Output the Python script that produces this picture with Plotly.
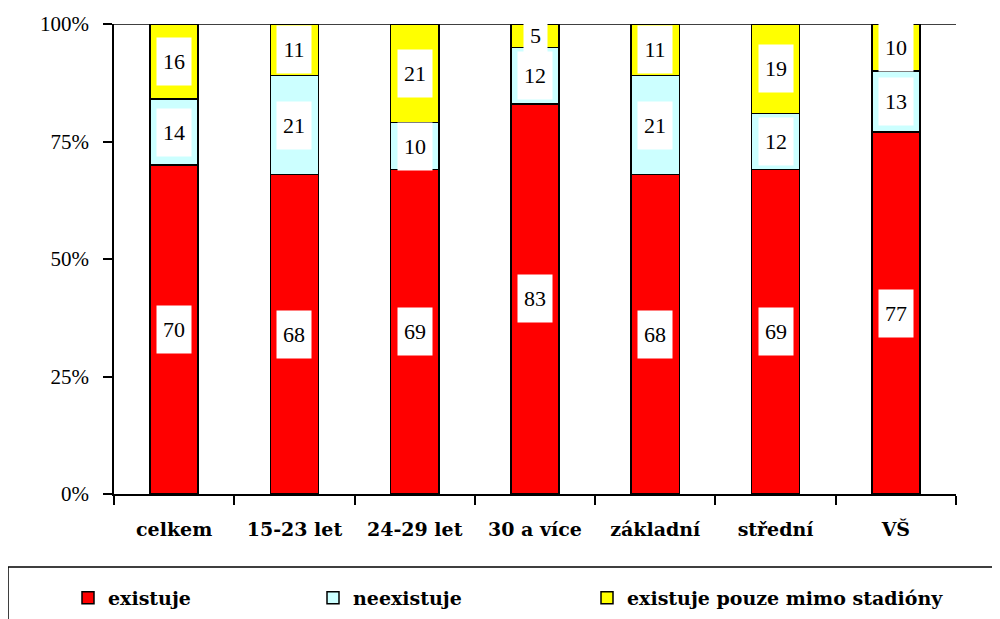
import plotly.graph_objects as go

categories = ["celkem", "15-23 let", "24-29 let", "30 a více", "základní", "střední", "VŠ"]
existuje = [70, 68, 69, 83, 68, 69, 77]
neexistuje = [14, 21, 10, 12, 21, 12, 13]
mimo = [16, 11, 21, 5, 11, 19, 10]
series_names = ["existuje", "neexistuje", "existuje pouze mimo stadióny"]
colors = ["#FF0000", "#CCFFFF", "#FFFF00"]
y_ticks = [0, 25, 50, 75, 100]
y_ticklabels = ["0%", "25%", "50%", "75%", "100%"]

FONT = "Liberation Serif"
FONT_BOLD = "DejaVu Serif"
series = [existuje, neexistuje, mimo]
legends = ["legend", "legend2", "legend3"]

W, H = 992, 611
OX, OY = 8, 8  # page body margin

def px_x(p):
    return (p - 114) / 842

def px_y(p):
    return (494 - p) / 470

fig = go.Figure()
for name, vals, col, lg in zip(series_names, series, colors, legends):
    fig.add_trace(go.Bar(
        x=categories, y=vals, name=name, width=0.4,
        marker=dict(color=col, line=dict(color="black", width=1.5)),
        legend=lg,
    ))

for i, cat in enumerate(categories):
    base = 0
    for vals in series:
        v = vals[i]
        mid = base + v / 2
        base += v
        fig.add_annotation(
            x=cat, y=mid, xref="x", yref="y", text=str(v), showarrow=False,
            font=dict(family=FONT, size=22, color="black"),
            bgcolor="white", width=11 * len(str(v)) + 10, height=45,
        )

fig.update_layout(
    barmode="stack",
    width=W, height=H,
    margin=dict(l=114 - OX, r=44, t=24 - OY, b=H - (494 - OY), autoexpand=False),
    paper_bgcolor="white", plot_bgcolor="white",
    font=dict(family=FONT, size=21, color="black"),
    showlegend=True,
    xaxis=dict(
        type="category", tickson="boundaries", ticks="outside", ticklen=9,
        tickwidth=1.5, tickcolor="black",
        showline=True, linecolor="black", linewidth=1.5,
        showgrid=False, zeroline=False, automargin=False,
        tickfont=dict(family=FONT_BOLD, size=19, color="black", weight="bold"),
        ticklabelstandoff=17,
        range=[-0.5, 6.5],
    ),
    yaxis=dict(
        range=[0, 100], tickmode="array", tickvals=y_ticks, ticktext=y_ticklabels,
        ticks="outside", ticklen=9, tickwidth=1.5, tickcolor="black",
        showline=True, linecolor="black", linewidth=1.5,
        showgrid=False, zeroline=False, automargin=False,
        tickfont=dict(family=FONT, size=21, color="black"),
        ticklabelstandoff=10,
    ),
)

leg_common = dict(
    orientation="h", yanchor="middle", y=px_y(598), xanchor="left",
    font=dict(family=FONT_BOLD, size=19, color="black", weight="bold"),
    bgcolor="rgba(0,0,0,0)", borderwidth=0,
)
fig.update_layout(
    legend=dict(x=px_x(68), **leg_common),
    legend2=dict(x=px_x(313), **leg_common),
    legend3=dict(x=px_x(587), **leg_common),
)

fig.add_shape(type="line", xref="paper", yref="y", x0=0, x1=1, y0=100, y1=100,
              line=dict(color="black", width=1.5))
fig.add_shape(type="rect", xref="paper", yref="paper",
              x0=px_x(8), x1=px_x(1010), y0=px_y(640), y1=px_y(567),
              line=dict(color="black", width=1.5), fillcolor="rgba(0,0,0,0)")

fig.write_html("out.html")
